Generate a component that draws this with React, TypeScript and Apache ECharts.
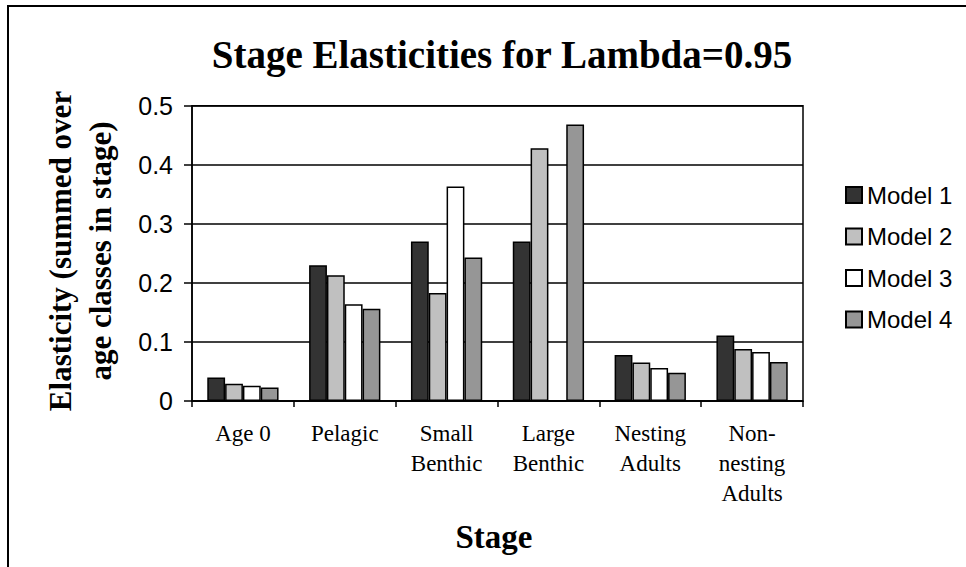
import React, { useEffect, useRef } from "react";
import * as echarts from "echarts";

const categories = ["Age 0", "Pelagic", "Small\nBenthic", "Large\nBenthic", "Nesting\nAdults", "Non-\nnesting\nAdults"];
const seriesNames = ["Model 1", "Model 2", "Model 3", "Model 4"];
const model1 = [0.04, 0.23, 0.27, 0.27, 0.078, 0.111];
const model2 = [0.029, 0.213, 0.183, 0.428, 0.065, 0.088];
const model3 = [0.026, 0.164, 0.363, 0, 0.056, 0.083];
const model4 = [0.023, 0.156, 0.243, 0.468, 0.048, 0.066];
const seriesColors = ["#333333", "#c0c0c0", "#ffffff", "#969696"];
const yTicks = [0, 0.1, 0.2, 0.3, 0.4, 0.5];

const SERIF = "'Liberation Serif', 'Times New Roman', serif";
const SANS = "'Liberation Sans', Arial, sans-serif";

export default function App() {
  const ref = useRef<HTMLDivElement>(null);
  useEffect(() => {
    document.body.style.margin = "0";
    if (!ref.current) return;
    const chart = echarts.init(ref.current, null, { renderer: "svg" });
    const data = [model1, model2, model3, model4];
    chart.setOption({
      animation: false,
      backgroundColor: "#ffffff",
      title: {
        text: "Stage Elasticities for Lambda=0.95",
        left: 497,
        top: 30,
        textAlign: "center",
        textStyle: { fontFamily: SERIF, fontWeight: "bold", fontSize: 39, color: "#000" },
      },
      legend: {
        orient: "vertical",
        left: 845,
        top: 183,
        padding: 0,
        itemWidth: 16,
        itemHeight: 16,
        itemGap: 17.5,
        icon: "rect",
        data: seriesNames,
        textStyle: { fontFamily: SANS, fontSize: 24, color: "#000" },
      },
      grid: {
        left: 192,
        right: 163,
        top: 105.7,
        bottom: 166,
        show: true,
        borderColor: "#000",
        borderWidth: 1.5,
        containLabel: false,
      },
      xAxis: {
        type: "category",
        data: categories,
        axisLine: { lineStyle: { color: "#000", width: 1.5 } },
        axisTick: { show: true, length: 6, lineStyle: { color: "#000", width: 1.5 } },
        axisLabel: {
          fontFamily: SERIF,
          fontSize: 23,
          color: "#000",
          lineHeight: 30,
          margin: 17,
          interval: 0,
          align: "center",
        },
      },
      yAxis: {
        type: "value",
        min: 0,
        max: 0.5,
        interval: 0.1,
        axisLine: { show: true, lineStyle: { color: "#000", width: 1.5 } },
        axisTick: { show: true, length: 8, lineStyle: { color: "#000", width: 1.5 } },
        axisLabel: {
          fontFamily: SANS,
          fontSize: 25,
          color: "#000",
          margin: 19,
          formatter: (v: number) => {
            const t = yTicks.find((x) => Math.abs(x - v) < 1e-9);
            return t === undefined ? "" : String(t);
          },
        },
        splitLine: { show: true, lineStyle: { color: "#000", width: 1.5 } },
      },
      series: seriesNames.map((name, i) => ({
        name,
        type: "bar",
        data: data[i],
        barGap: "0%",
        barCategoryGap: "30%",
        itemStyle: { color: seriesColors[i], borderColor: "#000", borderWidth: 1.5 },
      })),
      graphic: [
        {
          type: "rect",
          shape: { x: 8, y: 6, width: 1000, height: 700 },
          style: { fill: "none", stroke: "#000", lineWidth: 2 },
          silent: true,
        },
        {
          type: "text",
          x: 80,
          y: 251,
          rotation: Math.PI / 2,
          style: {
            text: "Elasticity (summed over\nage classes in stage)",
            fontFamily: SERIF,
            fontWeight: "bold",
            fontSize: 31,
            lineHeight: 40,
            fill: "#000",
            align: "center",
            verticalAlign: "middle",
          },
        },
        {
          type: "text",
          x: 494,
          y: 537,
          style: {
            text: "Stage",
            fontFamily: SERIF,
            fontWeight: "bold",
            fontSize: 33,
            fill: "#000",
            align: "center",
            verticalAlign: "middle",
          },
        },
      ],
    });
    return () => chart.dispose();
  }, []);
  return <div ref={ref} style={{ width: 966, height: 567 }} />;
}
